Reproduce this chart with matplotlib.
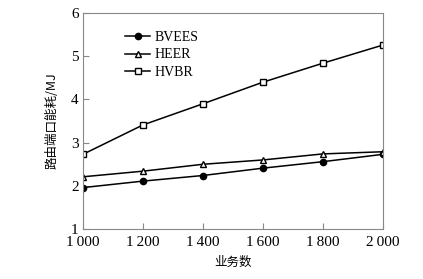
import matplotlib
matplotlib.use('Agg')
import matplotlib.pyplot as plt

# values
tasks = [1000, 1200, 1400, 1600, 1800, 2000]
tick_labels = ['1\u2009000', '1\u2009200', '1\u2009400', '1\u2009600', '1\u2009800', '2\u2009000']
bvees = [1.96, 2.11, 2.24, 2.41, 2.56, 2.73]
heer = [2.21, 2.34, 2.50, 2.60, 2.74, 2.79]
hvbr = [2.73, 3.41, 3.90, 4.40, 4.84, 5.26]

plt.rcParams['font.family'] = ['Liberation Serif', 'Noto Sans CJK SC']

fig = plt.figure(figsize=(4.23, 2.79), dpi=100)
ax = fig.add_axes([0.196, 0.179, 0.709, 0.774])

ax.plot(tasks, bvees, color='black', lw=1.1, marker='o', ms=4.5, mfc='black', label='BVEES')
ax.plot(tasks, heer, color='black', lw=1.1, marker='^', ms=4, mfc='white', label='HEER')
ax.plot(tasks, hvbr, color='black', lw=1.1, marker='s', ms=4, mfc='white', label='HVBR')

ax.set_xlim(1000, 2000)
ax.set_ylim(1, 6)
ax.set_xticks(tasks)
ax.set_xticklabels(tick_labels)
ax.set_yticks([1, 2, 3, 4, 5, 6])

for s in ax.spines.values():
    s.set_color('#888888')
ax.tick_params(direction='in', length=4, color='#888888', labelsize=11)
ax.tick_params(axis='x', pad=5)
ax.tick_params(axis='y', pad=3)

ax.set_xlabel('业务数', family='Noto Sans CJK SC', fontsize=9, labelpad=5)
ax.set_ylabel('路由端口能耗/MJ', family=['Noto Sans CJK SC'], fontsize=9, labelpad=9)

ax.legend(loc='upper left', bbox_to_anchor=(0.10, 0.975), frameon=False, fontsize=10,
          handlelength=1.8, handletextpad=0.3, labelspacing=0.32)

fig.savefig('out.png', dpi=100)
